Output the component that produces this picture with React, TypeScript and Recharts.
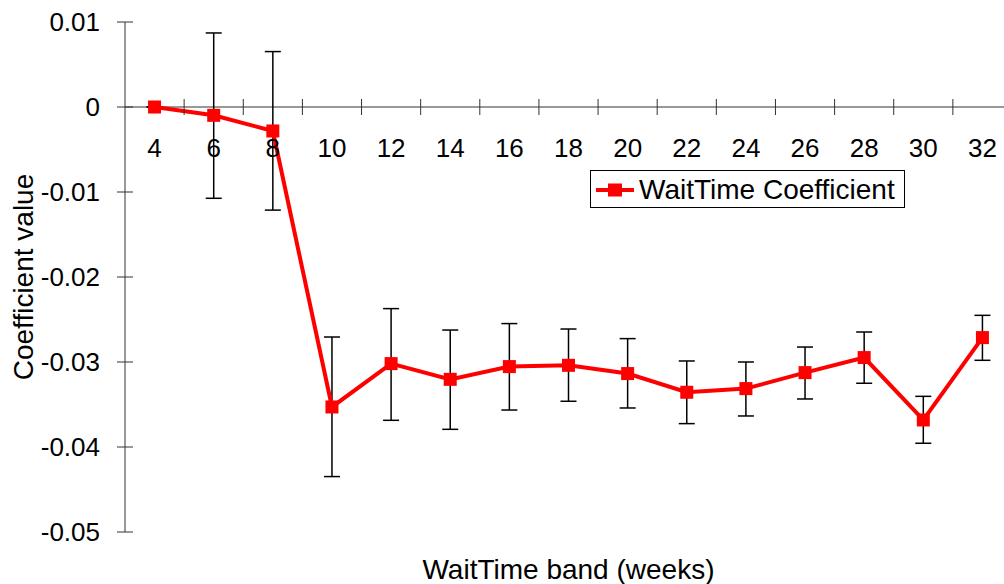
import React from 'react';
import {
  ComposedChart,
  Line,
  XAxis,
  YAxis,
  ErrorBar,
  ReferenceLine,
  ReferenceDot,
  Legend,
} from 'recharts';

const FONT = "'Liberation Sans', Arial, sans-serif";

const bands = [4, 6, 8, 10, 12, 14, 16, 18, 20, 22, 24, 26, 28, 30, 32];
const coefficients = [
  0, -0.00098, -0.00282, -0.03529, -0.03019, -0.03204, -0.03054, -0.03039,
  -0.03136, -0.03356, -0.03313, -0.03125, -0.02948, -0.03682, -0.02713,
];
const upperBounds = [
  0, 0.00871, 0.00652, -0.02706, -0.02372, -0.02624, -0.02548, -0.02612,
  -0.02725, -0.02988, -0.03, -0.02824, -0.02647, -0.03404, -0.02451,
];
const lowerBounds = [
  0, -0.01074, -0.01213, -0.04348, -0.03686, -0.03792, -0.03565, -0.03462,
  -0.03541, -0.03725, -0.03635, -0.03435, -0.0325, -0.03956, -0.0298,
];
const yTicks = [-0.05, -0.04, -0.03, -0.02, -0.01, 0, 0.01];
const bandEdges = [5, 7, 9, 11, 13, 15, 17, 19, 21, 23, 25, 27, 29, 31];

const data = bands.map((band, i) => ({
  band,
  value: coefficients[i],
  err: [coefficients[i] - lowerBounds[i], upperBounds[i] - coefficients[i]],
}));

const AXIS = '#333';

function YTick(props: any) {
  const { x, y, payload } = props;
  return (
    <g>
      <line x1={x - 8} x2={x + 8} y1={y} y2={y} stroke={AXIS} strokeWidth={1} />
      <text
        x={x - 25}
        y={y}
        dy="0.36em"
        textAnchor="end"
        fontFamily={FONT}
        fontSize={26}
        fill="#000"
      >
        {String(payload.value)}
      </text>
    </g>
  );
}

function SquareDot(props: any) {
  const { cx, cy, index } = props;
  if (cx == null || cy == null) return <g key={`d-${index}`} />;
  return <rect key={`d-${index}`} x={cx - 6.5} y={cy - 6.5} width={13} height={13} fill="#ff0000" />;
}

function LegendBox() {
  return (
    <div
      style={{
        border: '1px solid #000',
        background: '#fff',
        width: 313,
        height: 36,
        display: 'flex',
        alignItems: 'center',
        fontFamily: FONT,
        fontSize: 28,
        color: '#000',
        boxSizing: 'content-box',
      }}
    >
      <svg width={48} height={36} style={{ display: 'block' }}>
        <line x1={5} x2={43} y1={19} y2={19} stroke="#ff0000" strokeWidth={4} />
        <rect x={17} y={12.5} width={14} height={13} fill="#ff0000" />
      </svg>
      <span style={{ lineHeight: '36px', marginTop: 2 }}>WaitTime Coefficient</span>
    </div>
  );
}

export default function App() {
  return (
    <div
      style={{
        position: 'absolute',
        left: 0,
        top: 0,
        width: 1004,
        height: 584,
        overflow: 'hidden',
        background: '#fff',
      }}
    >
      <ComposedChart width={1012} height={584} data={data} margin={{ top: 22, right: 0, bottom: 0, left: 0 }}>
        <XAxis
          dataKey="band"
          type="number"
          domain={[3, 33]}
          allowDataOverflow
          height={52}
          axisLine={false}
          tickLine={false}
          tick={false}
          label={{
            content: (p: any) => {
              const vb = p.viewBox;
              return (
                <text
                  x={vb.x + vb.width / 2}
                  y={vb.y + 47}
                  textAnchor="middle"
                  fontFamily={FONT}
                  fontSize={28}
                  fill="#000"
                >
                  WaitTime band (weeks)
                </text>
              );
            },
          }}
        />
        <YAxis
          type="number"
          domain={[-0.05, 0.01]}
          ticks={yTicks}
          width={125}
          tickSize={0}
          tickMargin={0}
          tickLine={false}
          axisLine={{ stroke: AXIS, strokeWidth: 1 }}
          tick={<YTick />}
          interval={0}
          label={{
            content: (p: any) => {
              const vb = p.viewBox;
              const cx = vb.x + 33;
              const cy = vb.y + vb.height / 2;
              return (
                <text
                  x={cx}
                  y={cy}
                  transform={`rotate(-90, ${cx}, ${cy})`}
                  textAnchor="middle"
                  fontFamily={FONT}
                  fontSize={28}
                  fill="#000"
                >
                  Coefficient value
                </text>
              );
            },
          }}
        />
        <ReferenceLine y={0} stroke={AXIS} strokeWidth={1} />
        {bandEdges.map((v) => (
          <ReferenceDot
            key={`edge-${v}`}
            x={v}
            y={0}
            shape={(p: any) => (
              <line x1={p.cx} x2={p.cx} y1={p.cy - 8} y2={p.cy + 8} stroke={AXIS} strokeWidth={1} />
            )}
          />
        ))}
        {bands.map((v) => (
          <ReferenceDot
            key={`lbl-${v}`}
            x={v}
            y={0}
            shape={(p: any) => (
              <text x={p.cx} y={p.cy + 50} textAnchor="middle" fontFamily={FONT} fontSize={26} fill="#000">
                {v}
              </text>
            )}
          />
        ))}
        <Legend
          layout="horizontal"
          verticalAlign="middle"
          align="center"
          content={<LegendBox />}
          wrapperStyle={{ left: 590, top: 170, width: 315, height: 38 }}
        />
        <Line
          type="linear"
          dataKey="value"
          name="WaitTime Coefficient"
          stroke="#ff0000"
          strokeWidth={4}
          dot={SquareDot}
          activeDot={false}
          isAnimationActive={false}
        >
          <ErrorBar dataKey="err" width={8} stroke="#000" strokeWidth={1.5} direction="y" />
        </Line>
      </ComposedChart>
    </div>
  );
}
